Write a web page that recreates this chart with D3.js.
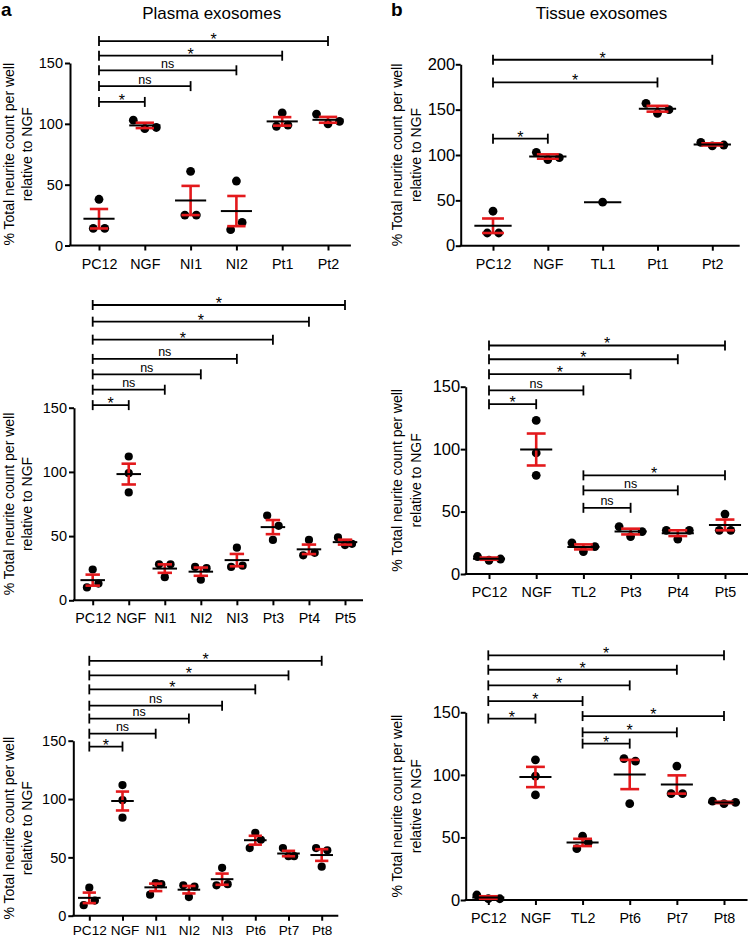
<!DOCTYPE html>
<html><head><meta charset="utf-8">
<script src="https://cdn.jsdelivr.net/npm/d3@7"></script>
<style>
body{margin:0;background:#fff}
text{font-family:"Liberation Sans",Arial,Helvetica,sans-serif;fill:#000}
</style></head>
<body><svg id="chart" width="748" height="939"></svg>
<script>
// ---------- DATA ----------
// Panel a, top (Plasma exosomes)
const catsA1 = ["PC12","NGF","NI1","NI2","Pt1","Pt2"];
const ptsA1  = [[14,38,14],[103,96,97],[25,61,25],[13,53,19],[98,109,99],[108,100,102]];
const meanA1 = [22,98.7,37,28.3,102,103.3];
const semA1  = [8,2.2,12,12.4,3.5,2.4];
const brA1   = [["PC12","NGF","*",118],["PC12","NI1","ns",131],["PC12","NI2","ns",144],["PC12","Pt1","*",156],["PC12","Pt2","*",168]];
const ticksA1 = [0,50,100,150];

// Panel b, top (Tissue exosomes)
const catsB1 = ["PC12","NGF","TL1","Pt1","Pt2"];
const ptsB1  = [[14,38,14],[103,95,97],[48],[157,146,150],[114,110,111]];
const meanB1 = [22,98.3,48,151,111.7];
const semB1  = [8,2.4,0,3.2,1.2];
const brB1   = [["PC12","NGF","*",118],["PC12","Pt1","*",180],["PC12","Pt2","*",205]];
const ticksB1 = [0,50,100,150,200];

// Panel a, middle
const catsA2 = ["PC12","NGF","NI1","NI2","NI3","Pt3","Pt4","Pt5"];
const ptsA2  = [[10,24,13],[112,99,84],[28,18,28],[16,26,25],[26,41,27],[66,47,58],[35,47,37],[49,43,44]];
const meanA2 = [15.7,98.3,24.7,22.3,31.3,57,39.7,45.3];
const semA2  = [4.3,8.1,3.3,3.2,4.8,5.5,3.7,1.9];
const brA2   = [["PC12","NGF","*",152],["PC12","NI1","ns",164],["PC12","NI2","ns",176],["PC12","NI3","ns",188],["PC12","Pt3","*",203],["PC12","Pt4","*",217],["PC12","Pt5","*",230]];
const ticksA2 = [0,50,100,150];

// Panel b, middle
const catsB2 = ["PC12","NGF","TL2","Pt3","Pt4","Pt5"];
const ptsB2  = [[14,11,12],[123,97,79],[25,18,22],[38,30,34],[35,28,35],[35,48,35]];
const meanB2 = [12.3,99.7,21.7,34,32.7,39.3];
const semB2  = [0.9,12.8,2.0,2.3,2.3,4.3];
const brB2   = [["PC12","NGF","*",136],["PC12","TL2","ns",147],["PC12","Pt3","*",160],["PC12","Pt4","*",172],["PC12","Pt5","*",183],["TL2","Pt3","ns",53],["TL2","Pt4","ns",67],["TL2","Pt5","*",79]];
const ticksB2 = [0,50,100,150];

// Panel a, bottom
const catsA3 = ["PC12","NGF","NI1","NI2","NI3","Pt6","Pt7","Pt8"];
const ptsA3  = [[9,24,13],[112,99,84],[28,18,27],[16,26,25],[26,41,27],[58,71,65],[58,51,51],[58,42,56]];
const meanA3 = [15.3,98.3,24.3,22.3,31.3,64.7,53.3,52];
const semA3  = [4.5,8.1,3.2,3.2,4.8,3.8,2.3,5.0];
const brA3   = [["PC12","NGF","*",145],["PC12","NI1","ns",156],["PC12","NI2","ns",169],["PC12","NI3","ns",180],["PC12","Pt6","*",194],["PC12","Pt7","*",206],["PC12","Pt8","*",218.5]];
const ticksA3 = [0,50,100,150];

// Panel b, bottom
const catsB3 = ["PC12","NGF","TL2","Pt6","Pt7","Pt8"];
const ptsB3  = [[4,1,1],[112,99,84],[41,51,46],[113,77,111],[85,107,85],[79,77,78]];
const meanB3 = [2,98.3,46,100.3,92.3,78];
const semB3  = [1,8.1,2.9,11.7,7.3,0.6];
const brB3   = [["PC12","NGF","*",145],["PC12","TL2","*",159],["PC12","Pt6","*",171.5],["PC12","Pt7","*",184],["PC12","Pt8","*",195.5],["TL2","Pt6","*",125],["TL2","Pt7","*",134],["TL2","Pt8","*",147]];
const ticksB3 = [0,50,100,150];

const yLabel1 = "% Total neurite count per well";
const yLabel2 = "relative to NGF";
const titles = [{t:"Plasma exosomes", x:211.7},{t:"Tissue exosomes", x:601.5}];
const letters = [{t:"a", x:1},{t:"b", x:391}];

// ---------- LAYOUT ----------
const panels = [
  {cats:catsA1, pts:ptsA1, mean:meanA1, sem:semA1, br:brA1, ticks:ticksA1, ymax:150, axisX:70,    yTop:63,    y0:245.5, x0:99,    x1:328,   lab1:9,   lab2:26.5,  r:4.4, yfs:14.5, ypad:2, xfs:14.3, xpad:8, ngfdx:0},
  {cats:catsB1, pts:ptsB1, mean:meanB1, sem:semB1, br:brB1, ticks:ticksB1, ymax:200, axisX:460.7, yTop:64.3,  y0:245.7, x0:493,   x1:712.3, lab1:397, lab2:415.5, r:4.4, yfs:16.5, ypad:0.5, xfs:14.3, xpad:8, ngfdx:0},
  {cats:catsA2, pts:ptsA2, mean:meanA2, sem:semA2, br:brA2, ticks:ticksA2, ymax:150, axisX:74,    yTop:407.7, y0:600.3, x0:92.7,  x1:345,   lab1:9,   lab2:26.5,  r:4.1, yfs:14.5, ypad:2, xfs:14.3, xpad:8, ngfdx:2},
  {cats:catsB2, pts:ptsB2, mean:meanB2, sem:semB2, br:brB2, ticks:ticksB2, ymax:150, axisX:465.7, yTop:386.7, y0:574,   x0:489,   x1:725,   lab1:397, lab2:415.5, r:4.4, yfs:16.5, ypad:0.5, xfs:14.3, xpad:8, ngfdx:0},
  {cats:catsA3, pts:ptsA3, mean:meanA3, sem:semA3, br:brA3, ticks:ticksA3, ymax:150, axisX:73.3,  yTop:740.7, y0:915.7, x0:89.3,  x1:321.7, lab1:9,   lab2:26.5,  r:4.1, yfs:14.5, ypad:2, xfs:13.6, xpad:5, ngfdx:2},
  {cats:catsB3, pts:ptsB3, mean:meanB3, sem:semB3, br:brB3, ticks:ticksB3, ymax:150, axisX:465.7, yTop:712.3, y0:900,   x0:488.3, x1:724,   lab1:397, lab2:415.5, r:4.4, yfs:16.5, ypad:0.5, xfs:14.3, xpad:8, ngfdx:0}
];

const RED = "#e3191c";
const svg = d3.select("#chart");

titles.forEach(d => svg.append("text").attr("x", d.x).attr("y", 19).attr("text-anchor","middle")
  .style("font-size","17px").text(d.t));
letters.forEach(d => svg.append("text").attr("x", d.x).attr("y", 16)
  .style("font-size","19px").style("font-weight","bold").text(d.t));

function jitter(vals, y, step){
  const idx = vals.map((v,i)=>i).sort((a,b)=>vals[a]-vals[b]);
  const clusters = []; let cur = null;
  idx.forEach(i => {
    if (cur && Math.abs(y(vals[i]) - y(vals[cur[0]])) < 10.5) cur.push(i);
    else { cur = [i]; clusters.push(cur); }
  });
  const off = vals.map(()=>0);
  clusters.forEach(c => {
    c.sort((a,b)=>a-b);
    const n = c.length;
    let s = 11.5;
    if (n > 1) s = Math.min(s, (step - 22)/(n-1));
    c.forEach((i,k) => off[i] = (k - (n-1)/2) * s);
  });
  return off;
}

panels.forEach(p => {
  const g = svg.append("g");
  const y = d3.scaleLinear().domain([0, p.ymax]).range([p.y0, p.yTop]);
  const x = d3.scalePoint().domain(p.cats).range([p.x0, p.x1]);
  const step = x.step();

  // y axis
  const ya = g.append("g").attr("transform", `translate(${p.axisX},0)`)
    .call(d3.axisLeft(y).tickValues(p.ticks).tickSize(5).tickSizeOuter(0).tickPadding(p.ypad));
  ya.select(".domain").attr("stroke","#000").attr("stroke-width",2);
  ya.selectAll(".tick line").attr("stroke","#000").attr("stroke-width",2);
  ya.selectAll(".tick text").style("font-size", p.yfs + "px").style("font-family",'"Liberation Sans",Arial,sans-serif');

  // x axis
  const xa = g.append("g").attr("transform", `translate(0,${p.y0})`)
    .call(d3.axisBottom(x).tickSize(5).tickSizeOuter(0).tickPadding(p.xpad));
  xa.select(".domain").remove();
  xa.selectAll(".tick line").attr("stroke","#000").attr("stroke-width",2);
  xa.selectAll(".tick text").style("font-size", p.xfs + "px").style("font-family",'"Liberation Sans",Arial,sans-serif')
    .attr("dx", d => d === "NGF" ? p.ngfdx : 0);
  g.append("line").attr("x1", p.axisX - 1).attr("x2", p.x1 + step/2)
    .attr("y1", p.y0).attr("y2", p.y0).attr("stroke","#000").attr("stroke-width",2);

  // y label
  const yc = (p.y0 + p.yTop)/2;
  [[p.lab1, yLabel1],[p.lab2, yLabel2]].forEach(([lx, t]) => {
    g.append("text").attr("transform", `translate(${lx},${yc}) rotate(-90)`)
      .attr("text-anchor","middle").attr("dy","0.36em").style("font-size","14px").text(t);
  });

  // data
  p.cats.forEach((c, i) => {
    const cx = x(c);
    const vals = p.pts[i];
    const off = jitter(vals, y, step);
    vals.forEach((v, k) => {
      g.append("circle").attr("cx", cx + off[k]).attr("cy", y(v)).attr("r", p.r).attr("fill","#000");
    });
    const m = p.mean[i], s = p.sem[i];
    const cw = 0.2 * step, mw = 0.34 * step;
    if (s > 0) {
      g.append("line").attr("x1",cx).attr("x2",cx).attr("y1",y(m-s)).attr("y2",y(m+s))
        .attr("stroke",RED).attr("stroke-width",2.6);
      [m-s, m+s].forEach(v => g.append("line").attr("x1",cx-cw).attr("x2",cx+cw)
        .attr("y1",y(v)).attr("y2",y(v)).attr("stroke",RED).attr("stroke-width",2.6));
    }
    g.append("line").attr("x1",cx-mw).attr("x2",cx+mw).attr("y1",y(m)).attr("y2",y(m))
      .attr("stroke","#000").attr("stroke-width",2);
  });

  // significance brackets
  p.br.forEach(([a, b, lab, lv]) => {
    const yy = y(lv), xa1 = x(a), xb = x(b);
    g.append("line").attr("x1",xa1).attr("x2",xb).attr("y1",yy).attr("y2",yy)
      .attr("stroke","#000").attr("stroke-width",1.8);
    [xa1, xb].forEach(xx => g.append("line").attr("x1",xx).attr("x2",xx)
      .attr("y1",yy-5).attr("y2",yy+5).attr("stroke","#000").attr("stroke-width",1.8));
    const t = g.append("text").attr("x",(xa1+xb)/2).attr("text-anchor","middle").text(lab);
    if (lab === "*") t.attr("y", yy + 4).style("font-size","16px");
    else t.attr("y", yy - 2.5).style("font-size","12.5px");
  });
});
</script>
</body></html>
